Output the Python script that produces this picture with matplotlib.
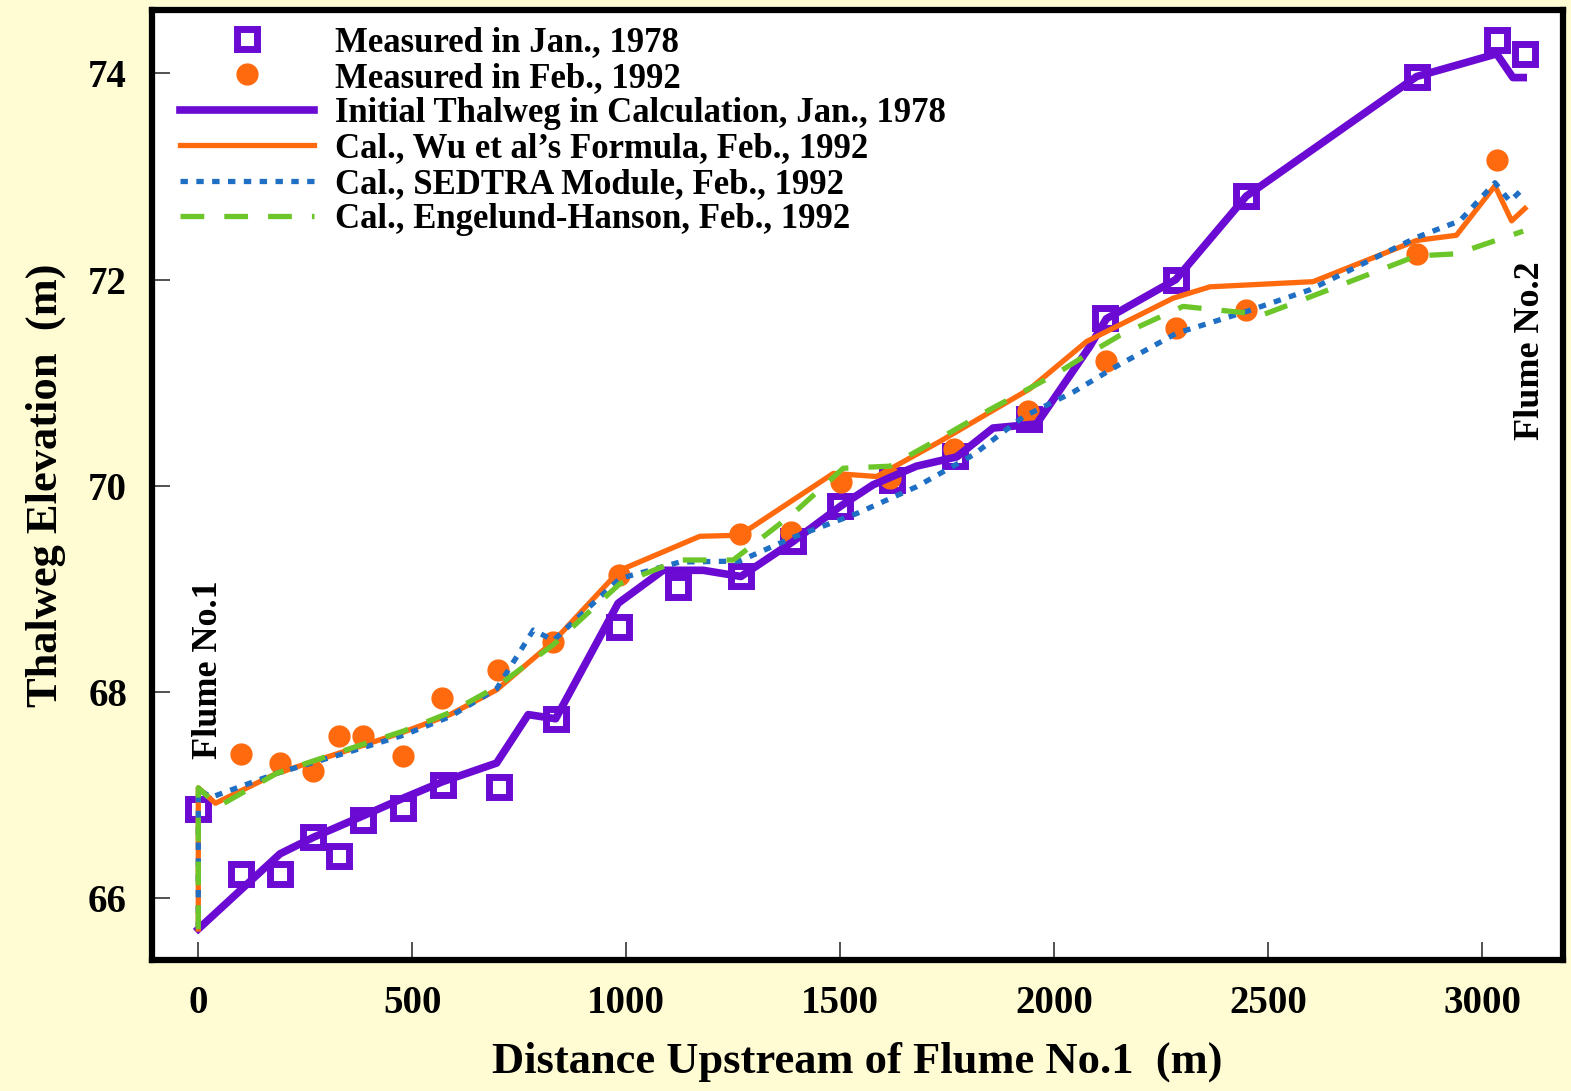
import matplotlib
matplotlib.use("Agg")
import matplotlib.pyplot as plt

# measured thalweg, Jan. 1978 (open squares)
x_jan78 = [0, 99, 191, 269, 329, 386, 479, 571, 703, 835, 983, 1120, 1268, 1390,
           1500, 1620, 1768, 1942, 2118, 2284, 2449, 2847, 3034, 3100]
y_jan78 = [66.86, 66.23, 66.23, 66.59, 66.41, 66.76, 66.87, 67.10, 67.08, 67.74,
           68.63, 69.02, 69.12, 69.46, 69.80, 70.06, 70.29, 70.65, 71.63, 72.00,
           72.81, 73.97, 74.32, 74.19]

# measured thalweg, Feb. 1992 (filled circles)
x_feb92 = [99, 191, 269, 329, 386, 479, 570, 701, 830, 983, 1266, 1385, 1503,
           1616, 1765, 1940, 2122, 2284, 2449, 2847, 3034]
y_feb92 = [67.40, 67.31, 67.23, 67.57, 67.57, 67.38, 67.94, 68.21, 68.48, 69.13,
           69.53, 69.55, 70.04, 70.08, 70.36, 70.73, 71.21, 71.53, 71.71, 72.25,
           73.16]

# initial thalweg used in calculation
x_init = [0, 191, 269, 386, 479, 571, 697, 771, 835, 981, 1086, 1180, 1268, 1390,
          1500, 1577, 1678, 1772, 1857, 1959, 2083, 2122, 2284, 2449, 2847, 3034,
          3072, 3096]
y_init = [65.70, 66.43, 66.59, 66.80, 66.97, 67.13, 67.31, 67.78, 67.74, 68.86,
          69.18, 69.18, 69.12, 69.46, 69.80, 70.01, 70.19, 70.28, 70.56, 70.60,
          71.35, 71.62, 72.00, 72.81, 73.97, 74.19, 73.96, 73.96]

# Wu et al's formula
x_wu = [0, 0, 40, 183, 354, 479, 588, 697, 830, 985, 1172, 1265, 1484, 1585, 1733,
        1943, 2076, 2278, 2364, 2605, 2847, 2940, 3030, 3069, 3100]
y_wu = [65.70, 67.07, 66.92, 67.21, 67.44, 67.61, 67.78, 68.02, 68.49, 69.18,
        69.51, 69.52, 70.12, 70.09, 70.43, 70.94, 71.40, 71.82, 71.93, 71.98,
        72.38, 72.43, 72.91, 72.57, 72.69]

# SEDTRA module
x_sed = [0, 0, 31, 183, 354, 479, 588, 697, 783, 830, 985, 1125, 1265, 1390, 1538,
         1678, 1811, 1928, 2045, 2146, 2286, 2449, 2597, 2847, 2948, 3030, 3065, 3100]
y_sed = [65.70, 67.05, 66.98, 67.21, 67.42, 67.58, 67.76, 68.03, 68.60, 68.50,
         69.10, 69.26, 69.27, 69.50, 69.73, 69.99, 70.30, 70.67, 70.91, 71.16,
         71.48, 71.69, 71.90, 72.41, 72.57, 72.94, 72.76, 72.90]

# Engelund-Hansen
x_eh = [0, 0, 47, 183, 354, 479, 588, 697, 830, 985, 1125, 1250, 1390, 1507, 1616,
        1733, 1850, 1998, 2076, 2154, 2301, 2488, 2597, 2847, 2940, 3096]
y_eh = [65.70, 67.07, 66.89, 67.21, 67.45, 67.62, 67.80, 68.05, 68.46, 69.05,
        69.28, 69.28, 69.73, 70.17, 70.19, 70.46, 70.74, 71.07, 71.27, 71.46,
        71.74, 71.66, 71.83, 72.23, 72.25, 72.47]

xticks = [0, 500, 1000, 1500, 2000, 2500, 3000]
yticks = [66, 68, 70, 72, 74]

purple = '#6a0ad2'
orange = '#ff6a0e'
blue = '#1f6fc4'
green = '#6cc62a'
bg = '#fffcd4'

plt.rcParams['font.family'] = ['Liberation Serif', 'DejaVu Serif']
plt.rcParams['font.weight'] = 'bold'

fig = plt.figure(figsize=(15.71, 10.91), dpi=100, facecolor=bg)
ax = fig.add_axes([0.0968, 0.1201, 0.8981, 0.8707])
ax.set_facecolor('white')

sq, = ax.plot(x_jan78, y_jan78, linestyle='none', marker='s', ms=15,
              mfc='white', mec=purple, mew=5, label='Measured in Jan., 1978', zorder=3)
ci, = ax.plot(x_feb92, y_feb92, linestyle='none', marker='o', ms=15,
              color=orange, mec=orange, label='Measured in Feb., 1992', zorder=3)
l1, = ax.plot(x_init, y_init, color=purple, lw=5.5,
              label='Initial Thalweg in Calculation, Jan., 1978', zorder=4)
l2, = ax.plot(x_wu, y_wu, color=orange, lw=3.8,
              label="Cal., Wu et al\u2019s Formula, Feb., 1992", zorder=5)
l3, = ax.plot(x_sed, y_sed, color=blue, lw=3.8, linestyle=(0, (1.4, 1.6)),
              label='Cal., SEDTRA Module, Feb., 1992', zorder=6)
l4, = ax.plot(x_eh, y_eh, color=green, lw=3.8, linestyle=(0, (4.5, 3.8)),
              label='Cal., Engelund-Hanson, Feb., 1992', zorder=7)

ax.set_xlim(-108, 3189)
ax.set_ylim(65.40, 74.615)
ax.set_xticks(xticks)
ax.set_yticks(yticks)
ax.tick_params(direction='in', length=13, width=1.2, color='#333333',
               labelsize=28, pad=18)
for lab in ax.get_xticklabels() + ax.get_yticklabels():
    lab.set_fontweight('bold')
for s in ax.spines.values():
    s.set_linewidth(4.5)
    s.set_color('black')

ax.set_xlabel('Distance Upstream of Flume No.1  (m)', fontsize=32,
              fontweight='bold', labelpad=14)
ax.set_ylabel('Thalweg Elevation  (m)', fontsize=32, fontweight='bold',
              labelpad=16)

ax.text(24, 68.22, 'Flume No.1', rotation=90, fontsize=26, fontweight='bold',
        ha='center', va='center')
ax.text(3114, 71.31, 'Flume No.2', rotation=90, fontsize=26, fontweight='bold',
        ha='center', va='center')

leg = ax.legend(handles=[sq, ci, l1, l2, l3, l4], loc='upper left',
                bbox_to_anchor=(0.0198, 0.983), frameon=False, fontsize=25,
                numpoints=1, handlelength=3.85, handletextpad=0.6,
                labelspacing=0.07, borderaxespad=0, borderpad=0)
for t in leg.get_texts():
    t.set_fontweight('bold')

fig.savefig('out.png', dpi=100, facecolor=bg)
